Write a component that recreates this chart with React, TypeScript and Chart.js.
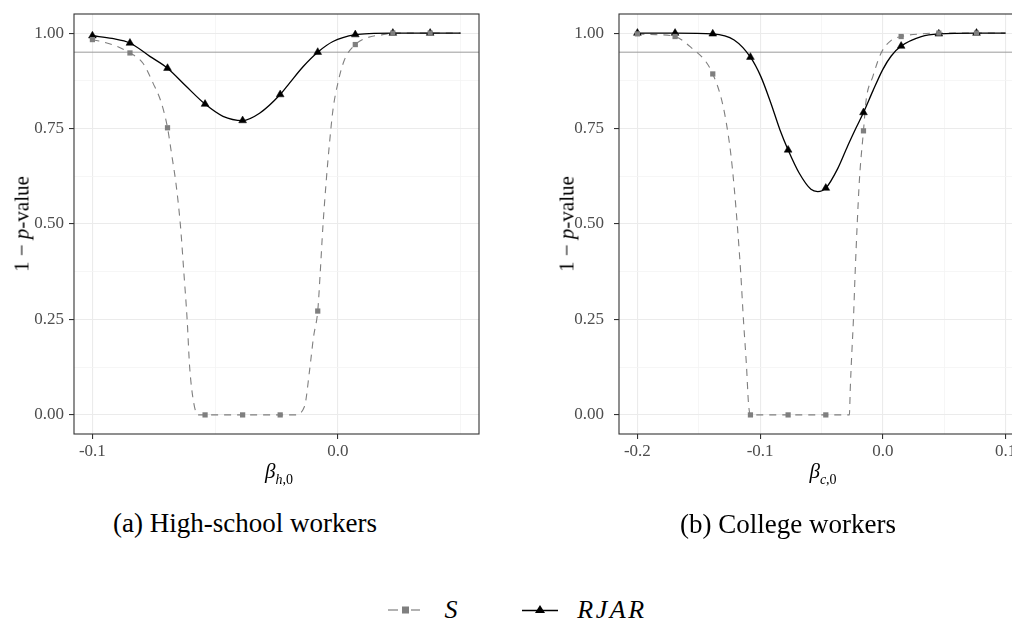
import { useEffect, useRef } from "react";
import { Chart, registerables } from "chart.js";

Chart.register(...registerables);

// (a) high-school workers: marker grid and values
const hsMarkX = [-0.1, -0.0847, -0.0694, -0.0541, -0.0388, -0.0235, -0.0082, 0.0071, 0.0224, 0.0376];
const hsMarkS = [0.983, 0.948, 0.752, 0, 0, 0, 0.272, 0.97, 1.0, 1.0];
const hsMarkRJAR = [0.993, 0.974, 0.908, 0.814, 0.771, 0.839, 0.95, 0.996, 1.0, 1.0];
// extra points read along the curves between the markers
const hsCurveSX = [-0.092, -0.0794, -0.0753, -0.0719, -0.0678, -0.0658, -0.0641, -0.0628, -0.0614, -0.0604, -0.0587, -0.057, -0.0176, -0.0136, -0.0115, -0.0099, -0.0072, -0.0061, -0.0047, -0.0034, -0.002, 0.0, 0.0027, 0.0116, 0.0183, 0.05];
const hsCurveSY = [0.97, 0.921, 0.869, 0.817, 0.686, 0.598, 0.493, 0.378, 0.249, 0.127, 0.031, 0.0, 0.0, 0.022, 0.118, 0.205, 0.371, 0.493, 0.616, 0.712, 0.799, 0.869, 0.93, 0.987, 0.996, 1.0];
const hsCurveRX = [-0.092, -0.0766, -0.0617, -0.0468, -0.0319, -0.0197, -0.0142, -0.002, 0.0147, 0.05];
const hsCurveRY = [0.986, 0.939, 0.86, 0.782, 0.79, 0.869, 0.912, 0.978, 0.999, 1.0];

// (b) college workers
const clMarkX = [-0.2, -0.1693, -0.1386, -0.1079, -0.0772, -0.0465, -0.0158, 0.0149, 0.0456, 0.0763];
const clMarkS = [0.998, 0.991, 0.893, 0, 0, 0, 0.744, 0.991, 1.0, 1.0];
const clMarkRJAR = [1.0, 1.0, 0.998, 0.937, 0.694, 0.594, 0.792, 0.966, 0.998, 1.0];
const clCurveSX = [-0.185, -0.154, -0.1444, -0.1321, -0.128, -0.124, -0.1212, -0.1185, -0.1158, -0.1136, -0.1111, -0.1095, -0.0273, -0.0265, -0.0253, -0.024, -0.0226, -0.021, -0.0191, -0.0136, -0.0082, -0.0014, 0.0068, 0.0313, 0.1];
const clCurveSY = [0.996, 0.956, 0.926, 0.834, 0.773, 0.686, 0.598, 0.493, 0.371, 0.249, 0.127, 0.031, 0.0, 0.074, 0.162, 0.249, 0.371, 0.493, 0.616, 0.825, 0.886, 0.948, 0.981, 0.998, 1.0];
const clCurveRX = [-0.185, -0.1212, -0.0994, -0.0913, -0.0839, -0.0681, -0.0586, -0.0531, -0.0368, -0.0286, -0.0218, -0.0082, 0.0, 0.0068, 0.0313, 0.1];
const clCurveRY = [1.0, 0.982, 0.886, 0.817, 0.747, 0.633, 0.591, 0.585, 0.645, 0.705, 0.752, 0.848, 0.905, 0.94, 0.991, 1.0];

const yTicks = [0, 0.125, 0.25, 0.375, 0.5, 0.625, 0.75, 0.875, 1.0];
const yMajor = [0, 0.25, 0.5, 0.75, 1.0];
const hsXTicks = [-0.1, -0.05, 0.0, 0.05];
const hsXMajor = [-0.1, 0.0];
const clXTicks = [-0.2, -0.15, -0.1, -0.05, 0.0, 0.05, 0.1];
const clXMajor = [-0.2, -0.1, 0.0, 0.1];
const refLevel = 0.95;

const SERIF = "'Liberation Serif', 'DejaVu Serif', serif";
const GREY_S = "#7f7f7f";

const toPoints = (xs: number[], ys: number[]) => xs.map((x, i) => ({ x, y: ys[i] }));
const mergeCurve = (mx: number[], my: number[], cx: number[], cy: number[]) =>
  [...toPoints(mx, my), ...toPoints(cx, cy)].sort((a, b) => a.x - b.x);

const isIn = (list: number[], v: number) => list.some((m) => Math.abs(m - v) < 1e-9);

const panelPlugin = {
  id: "panelFrame",
  beforeDatasetsDraw: (chart: any) => {
    const { ctx, chartArea, scales } = chart;
    const yy = scales.y.getPixelForValue(refLevel);
    ctx.save();
    ctx.strokeStyle = "#9a9a9a";
    ctx.lineWidth = 1;
    ctx.beginPath();
    ctx.moveTo(chartArea.left, yy);
    ctx.lineTo(chartArea.right, yy);
    ctx.stroke();
    ctx.restore();
  },
  afterDraw: (chart: any) => {
    const { ctx, chartArea } = chart;
    ctx.save();
    ctx.strokeStyle = "#333333";
    ctx.lineWidth = 1.1;
    ctx.strokeRect(chartArea.left, chartArea.top, chartArea.right - chartArea.left, chartArea.bottom - chartArea.top);
    ctx.restore();
  },
};

type PanelProps = {
  left: number;
  markX: number[];
  markS: number[];
  markR: number[];
  curveSX: number[];
  curveSY: number[];
  curveRX: number[];
  curveRY: number[];
  xMin: number;
  xMax: number;
  xTicks: number[];
  xMajor: number[];
  yPad: number;
};

const W = 490;
const H = 470;

const Panel = (p: PanelProps) => {
  const canvasRef = useRef<HTMLCanvasElement>(null);

  useEffect(() => {
    const ctx = canvasRef.current!.getContext("2d")!;
    const chart = new Chart(ctx, {
      type: "line",
      data: {
        datasets: [
          {
            label: "S",
            data: toPoints(p.markX, p.markS),
            showLine: false,
            pointStyle: "rect",
            pointRadius: 3.7,
            pointBackgroundColor: GREY_S,
            pointBorderWidth: 0,
            order: 1,
          },
          {
            label: "RJAR",
            data: toPoints(p.markX, p.markR),
            showLine: false,
            pointStyle: "triangle",
            pointRadius: 4.5,
            pointBackgroundColor: "#000000",
            pointBorderColor: "#000000",
            pointBorderWidth: 0.5,
            order: 2,
          },
          {
            label: "RJAR curve",
            data: mergeCurve(p.markX, p.markR, p.curveRX, p.curveRY),
            borderColor: "#000000",
            borderWidth: 1.3,
            pointRadius: 0,
            cubicInterpolationMode: "monotone",
            order: 3,
          },
          {
            label: "S curve",
            data: mergeCurve(p.markX, p.markS, p.curveSX, p.curveSY),
            borderColor: GREY_S,
            borderWidth: 1.1,
            borderDash: [7, 6],
            pointRadius: 0,
            cubicInterpolationMode: "monotone",
            order: 4,
          },
        ],
      },
      options: {
        responsive: false,
        animation: false,
        layout: { autoPadding: false, padding: { left: 0, top: 14, right: W - 479, bottom: 0 } },
        plugins: {
          legend: { display: false },
          tooltip: { enabled: false },
        },
        scales: {
          x: {
            type: "linear",
            min: p.xMin,
            max: p.xMax,
            afterBuildTicks: (scale: any) => {
              scale.ticks = p.xTicks.map((v) => ({ value: v }));
            },
            afterFit: (scale: any) => {
              scale.height = H - 434;
              scale.paddingLeft = 0;
              scale.paddingRight = 0;
            },
            grid: {
              color: (c: any) => (isIn(p.xMajor, c.tick?.value) ? "#ebebeb" : "#f4f4f4"),
              lineWidth: (c: any) => (isIn(p.xMajor, c.tick?.value) ? 1.1 : 0.8),
              tickColor: (c: any) => (isIn(p.xMajor, c.tick?.value) ? "#333333" : "rgba(0,0,0,0)"),
              tickLength: 5,
            },
            border: { display: false },
            ticks: {
              color: "#4d4d4d",
              font: { family: SERIF, size: 17 },
              padding: 2,
              maxRotation: 0,
              autoSkip: false,
              callback: (v: any) => (isIn(p.xMajor, Number(v)) ? Number(v).toFixed(1) : ""),
            },
          },
          y: {
            type: "linear",
            min: -0.05,
            max: 1.05,
            afterBuildTicks: (scale: any) => {
              scale.ticks = yTicks.map((v) => ({ value: v }));
            },
            afterFit: (scale: any) => {
              scale.width = 74;
              scale.paddingTop = 0;
              scale.paddingBottom = 0;
            },
            grid: {
              color: (c: any) => (isIn(yMajor, c.tick?.value) ? "#ebebeb" : "#f4f4f4"),
              lineWidth: (c: any) => (isIn(yMajor, c.tick?.value) ? 1.1 : 0.8),
              tickColor: (c: any) => (isIn(yMajor, c.tick?.value) ? "#333333" : "rgba(0,0,0,0)"),
              tickLength: 5,
            },
            border: { display: false },
            ticks: {
              color: "#4d4d4d",
              font: { family: SERIF, size: 17 },
              padding: p.yPad,
              autoSkip: false,
              callback: (v: any) => (isIn(yMajor, Number(v)) ? Number(v).toFixed(2) : ""),
            },
          },
        },
      },
      plugins: [panelPlugin],
    } as any);
    return () => chart.destroy();
  }, []);

  return (
    <canvas
      ref={canvasRef}
      width={W}
      height={H}
      style={{ position: "absolute", left: p.left, top: 0, width: W, height: H }}
    />
  );
};

const abs = (x: number, y: number, extra: any = {}) => ({
  position: "absolute" as const,
  left: x,
  top: y,
  transform: "translate(-50%, -50%)",
  whiteSpace: "nowrap" as const,
  fontFamily: SERIF,
  color: "#000",
  lineHeight: 1,
  ...extra,
});

const YTitle = ({ x }: { x: number }) => (
  <div style={abs(x, 224, { fontSize: 21, transform: "translate(-50%, -50%) rotate(-90deg)" })}>
    1 − <i>p</i>-value
  </div>
);

const XTitle = ({ x, sub }: { x: number; sub: string }) => (
  <div style={abs(x, 474, { fontSize: 21 })}>
    <i>β</i>
    <sub style={{ fontSize: 14 }}>
      <i>{sub}</i>,0
    </sub>
  </div>
);

export default function App() {
  return (
    <div style={{ position: "absolute", left: 0, top: 0, width: 1012, height: 621, overflow: "hidden", background: "#fff" }}>
      <Panel
        left={0}
        markX={hsMarkX}
        markS={hsMarkS}
        markR={hsMarkRJAR}
        curveSX={hsCurveSX}
        curveSY={hsCurveSY}
        curveRX={hsCurveRX}
        curveRY={hsCurveRY}
        xMin={-0.1075}
        xMax={0.0575}
        xTicks={hsXTicks}
        xMajor={hsXMajor}
        yPad={5}
      />
      <Panel
        left={545}
        markX={clMarkX}
        markS={clMarkS}
        markR={clMarkRJAR}
        curveSX={clCurveSX}
        curveSY={clCurveSY}
        curveRX={clCurveRX}
        curveRY={clCurveRY}
        xMin={-0.215}
        xMax={0.115}
        xTicks={clXTicks}
        xMajor={clXMajor}
        yPad={10}
      />
      <YTitle x={22} />
      <YTitle x={567} />
      <XTitle x={279} sub="h" />
      <XTitle x={823} sub="c" />
      <div style={abs(245, 523, { fontSize: 27 })}>(a) High-school workers</div>
      <div style={abs(788, 524, { fontSize: 27 })}>(b) College workers</div>

      <svg style={{ position: "absolute", left: 385, top: 600 }} width={40} height={20}>
        <line x1={3} y1={10} x2={13} y2={10} stroke={GREY_S} strokeWidth={1.2} />
        <line x1={26} y1={10} x2={35} y2={10} stroke={GREY_S} strokeWidth={1.2} />
        <rect x={17} y={6.5} width={7} height={7} fill={GREY_S} />
      </svg>
      <div style={abs(451, 610, { fontSize: 26, fontStyle: "italic" })}>S</div>

      <svg style={{ position: "absolute", left: 520, top: 600 }} width={40} height={20}>
        <line x1={2} y1={10.5} x2={38} y2={10.5} stroke="#000" strokeWidth={1.4} />
        <polygon points="20,5 25,13 15,13" fill="#000" />
      </svg>
      <div style={abs(612, 610, { fontSize: 26, fontStyle: "italic", letterSpacing: "0.1em" })}>RJAR</div>
    </div>
  );
}
